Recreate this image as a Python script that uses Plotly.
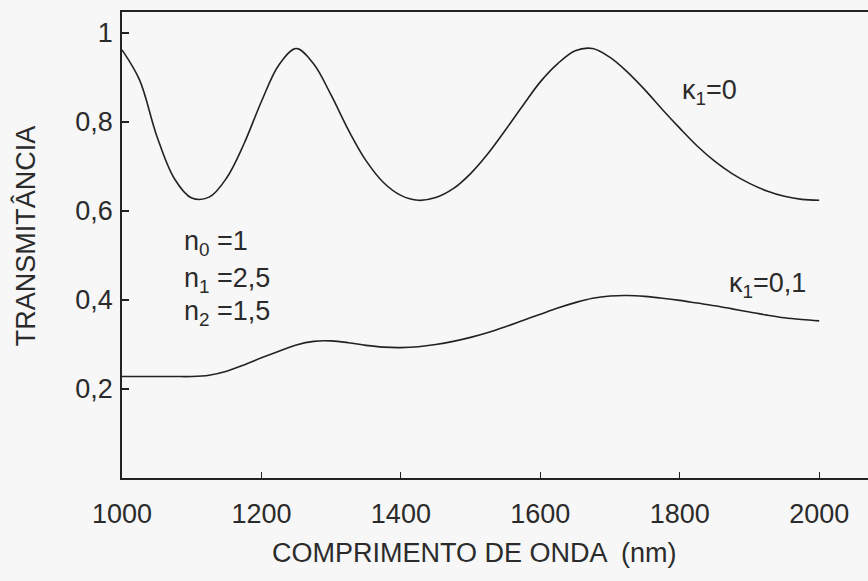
import plotly.graph_objects as go

# wavelength (nm)
wavelength = [1000, 1025, 1050, 1075, 1100, 1125, 1150, 1175, 1200, 1225, 1250,
              1275, 1300, 1325, 1350, 1375, 1400, 1425, 1450, 1475, 1500,
              1525, 1550, 1575, 1600, 1625, 1650, 1675, 1700, 1725, 1750,
              1775, 1800, 1825, 1850, 1875, 1900, 1925, 1950, 1975, 2000]

# transmittance, kappa1 = 0
t_k0 = [0.962, 0.895, 0.768, 0.673, 0.629, 0.631, 0.674, 0.751, 0.846, 0.928, 0.965,
        0.930, 0.860, 0.781, 0.713, 0.664, 0.635, 0.624, 0.630, 0.650, 0.684,
        0.729, 0.782, 0.837, 0.890, 0.931, 0.960, 0.965, 0.945, 0.912, 0.872,
        0.828, 0.786, 0.746, 0.712, 0.684, 0.662, 0.645, 0.633, 0.626, 0.624]

# transmittance, kappa1 = 0.1
t_k01 = [0.228, 0.228, 0.228, 0.228, 0.228, 0.231, 0.240, 0.254, 0.270, 0.285, 0.299,
         0.307, 0.308, 0.304, 0.298, 0.294, 0.293, 0.295, 0.300, 0.307, 0.316,
         0.327, 0.340, 0.354, 0.368, 0.382, 0.394, 0.404, 0.409, 0.410, 0.408,
         0.404, 0.399, 0.393, 0.387, 0.380, 0.373, 0.366, 0.360, 0.356, 0.353]

x_ticks = [1000, 1200, 1400, 1600, 1800, 2000]
x_ticktext = ["1000", "1200", "1400", "1600", "1800", "2000"]
y_ticks = [0.2, 0.4, 0.6, 0.8, 1.0]
y_ticktext = ["0,2", "0,4", "0,6", "0,8", "1"]

ink = "#222222"
font = "Liberation Sans, Arial, sans-serif"

fig = go.Figure()
for ys in (t_k0, t_k01):
    fig.add_trace(go.Scatter(x=wavelength, y=ys, mode="lines",
                             line=dict(color=ink, width=1.6, shape="spline", smoothing=1.0),
                             showlegend=False, hoverinfo="skip"))

fig.update_layout(
    width=868, height=581,
    margin=dict(l=122, r=0, t=12, b=103),
    paper_bgcolor="#f7f7f7", plot_bgcolor="#f7f7f7",
    font=dict(family=font, size=27, color="#2b2b2b"),
    xaxis=dict(range=[1000, 2070], tickvals=x_ticks, ticktext=x_ticktext,
               ticks="inside", ticklen=6, tickcolor=ink, tickwidth=1.2,
               showline=True, linecolor=ink, linewidth=1.8, mirror=True,
               showgrid=False, zeroline=False, ticklabelstandoff=11),
    yaxis=dict(range=[0, 1.047], tickvals=y_ticks, ticktext=y_ticktext,
               ticks="inside", ticklen=7, tickcolor=ink, tickwidth=1.2,
               showline=True, linecolor=ink, linewidth=1.8, mirror=False,
               showgrid=False, zeroline=False, ticklabelstandoff=2),
)

annots = [
    dict(x=0.473, y=-0.161, xref="paper", yref="paper", text="COMPRIMENTO DE ONDA  (nm)",
         showarrow=False, xanchor="center", yanchor="middle"),
    dict(x=-0.130, y=0.519, xref="paper", yref="paper", text="TRANSMITÂNCIA",
         showarrow=False, textangle=-90, xanchor="center", yanchor="middle"),
    dict(x=1800, y=0.867, text="κ<sub>1</sub>=0", showarrow=False, xanchor="left", yanchor="middle"),
    dict(x=1868, y=0.434, text="κ<sub>1</sub>=0,1", showarrow=False, xanchor="left", yanchor="middle"),
    dict(x=1086, y=0.528, text="n<sub>0</sub> =1", showarrow=False, xanchor="left", yanchor="middle"),
    dict(x=1086, y=0.445, text="n<sub>1</sub> =2,5", showarrow=False, xanchor="left", yanchor="middle"),
    dict(x=1086, y=0.371, text="n<sub>2</sub> =1,5", showarrow=False, xanchor="left", yanchor="middle"),
]
fig.update_layout(annotations=annots)

fig.write_html(
    "out.html",
    config={"displayModeBar": False, "staticPlot": True},
    post_script="document.body.style.margin='0';document.body.style.overflow='hidden';",
)
